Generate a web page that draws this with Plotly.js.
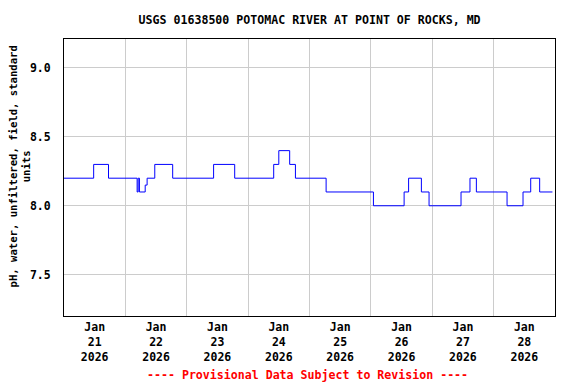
<!DOCTYPE html>
<html>
<head>
<meta charset="utf-8">
<script src="https://cdn.plot.ly/plotly-3.0.1.min.js"></script>
<style>html,body{margin:0;padding:0;background:#fff;}#chart{width:576px;height:384px;}</style>
</head>
<body>
<div id="chart"></div>
<script>
// Time at which each value begins (step series summarised at changes)
var times = ['2026-01-21 00:00','2026-01-21 11:36','2026-01-21 17:24','2026-01-22 04:36','2026-01-22 05:00',
  '2026-01-22 05:30','2026-01-22 07:45','2026-01-22 08:30','2026-01-22 11:30','2026-01-22 18:30',
  '2026-01-23 10:30','2026-01-23 18:45','2026-01-24 10:00','2026-01-24 12:00','2026-01-24 16:15',
  '2026-01-24 18:30','2026-01-25 06:30','2026-01-26 01:00','2026-01-26 13:00','2026-01-26 14:45',
  '2026-01-26 19:45','2026-01-26 22:45','2026-01-27 11:15','2026-01-27 14:45','2026-01-27 17:15',
  '2026-01-28 05:15','2026-01-28 11:30','2026-01-28 14:30','2026-01-28 18:00','2026-01-28 23:00'];
var phValues = [8.2, 8.3, 8.2, 8.1, 8.2,
  8.1, 8.15, 8.2, 8.3, 8.2,
  8.3, 8.2, 8.3, 8.4, 8.3,
  8.2, 8.1, 8.0, 8.1, 8.2,
  8.1, 8.0, 8.1, 8.2, 8.1,
  8.0, 8.1, 8.2, 8.1, 8.1];

var dayLabelPositions = ['2026-01-21 12:00','2026-01-22 12:00','2026-01-23 12:00','2026-01-24 12:00',
  '2026-01-25 12:00','2026-01-26 12:00','2026-01-27 12:00','2026-01-28 12:00'];
var dayLabels = ['Jan<br>21<br>2026','Jan<br>22<br>2026','Jan<br>23<br>2026','Jan<br>24<br>2026',
  'Jan<br>25<br>2026','Jan<br>26<br>2026','Jan<br>27<br>2026','Jan<br>28<br>2026'];
var dayBoundaries = ['2026-01-22','2026-01-23','2026-01-24','2026-01-25','2026-01-26','2026-01-27','2026-01-28'];
var xRange = ['2026-01-21 00:00','2026-01-29 00:00'];

var yTickVals = [7.5, 8.0, 8.5, 9.0];
var yTickText = ['7.5','8.0','8.5','9.0'];
var yRange = [7.2, 9.21];

var FONT = '"DejaVu Sans Mono", "Liberation Mono", monospace';

var trace = {
  x: times, y: phValues, type: 'scatter', mode: 'lines',
  line: {color: '#0000ff', width: 1, shape: 'hv'},
  hoverinfo: 'skip', xaxis: 'x', yaxis: 'y'
};
var gridTrace = {
  x: [xRange[0]], y: [null], type: 'scatter', mode: 'lines',
  xaxis: 'x2', yaxis: 'y', showlegend: false, hoverinfo: 'skip'
};

var layout = {
  width: 576, height: 384,
  margin: {l: 64, r: 21, t: 39, b: 68},
  paper_bgcolor: '#ffffff', plot_bgcolor: '#ffffff',
  showlegend: false,
  font: {family: FONT, color: '#000000', weight: 'bold'},
  title: {
    text: 'USGS 01638500 POTOMAC RIVER AT POINT OF ROCKS, MD',
    font: {family: FONT, size: 11.6, color: '#000000', weight: 'bold'},
    x: 0.5375, xanchor: 'center', y: 1 - 20/384, yanchor: 'middle'
  },
  xaxis: {
    type: 'date', range: xRange,
    tickmode: 'array', tickvals: dayLabelPositions, ticktext: dayLabels,
    showgrid: false, zeroline: false, ticks: '',
    tickfont: {family: FONT, size: 11.5, color: '#000000', weight: 'bold'},
    showline: true, linecolor: '#000000', linewidth: 1, mirror: true,
    fixedrange: true
  },
  xaxis2: {
    type: 'date', range: xRange, overlaying: 'x',
    tickmode: 'array', tickvals: dayBoundaries, showticklabels: false,
    showgrid: true, gridcolor: '#cccccc', gridwidth: 1, zeroline: false, ticks: '',
    showline: false
  },
  yaxis: {
    range: yRange, tickmode: 'array', tickvals: yTickVals, ticktext: yTickText,
    showgrid: true, gridcolor: '#cccccc', gridwidth: 1, zeroline: false, ticks: '',
    ticklabelstandoff: 10,
    tickfont: {family: FONT, size: 11.5, color: '#000000', weight: 'bold'},
    showline: true, linecolor: '#000000', linewidth: 1, mirror: true
  },
  annotations: [{
    text: '---- Provisional Data Subject to Revision ----',
    xref: 'paper', yref: 'paper', x: 0.495, y: -0.213,
    xanchor: 'center', yanchor: 'middle', showarrow: false,
    font: {family: FONT, size: 11.6, color: '#ff0000', weight: 'bold'}
  }, {
    text: 'pH, water, unfiltered, field, standard<br>units',
    xref: 'paper', yref: 'paper', x: (19 - 64) / 491, y: (316 - 166.5) / 277,
    xanchor: 'center', yanchor: 'middle', textangle: -90, showarrow: false,
    font: {family: FONT, size: 10.6, color: '#000000', weight: 'bold'}
  }]
};

Plotly.newPlot('chart', [gridTrace, trace], layout, {staticPlot: true, displayModeBar: false});
</script>
</body>
</html>
